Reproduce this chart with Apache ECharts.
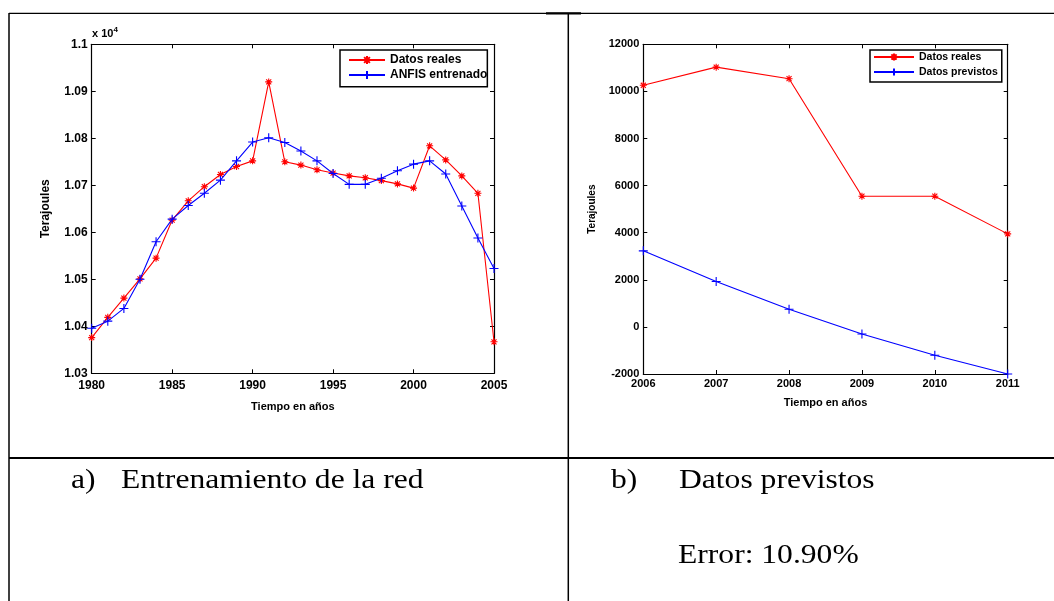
<!DOCTYPE html>
<html>
<head>
<meta charset="utf-8">
<script src="https://cdn.jsdelivr.net/npm/echarts@6/dist/echarts.min.js"></script>
<style>
  html, body { margin: 0; padding: 0; background: #fff; }
  #chart { width: 1054px; height: 601px; }
</style>
</head>
<body>
<div id="chart"></div>
<script>
// Training period (1980-2005): measured energy vs. trained ANFIS output, in Terajoules
const yearsTrain = [1980, 1981, 1982, 1983, 1984, 1985, 1986, 1987, 1988, 1989, 1990, 1991, 1992,
                    1993, 1994, 1995, 1996, 1997, 1998, 1999, 2000, 2001, 2002, 2003, 2004, 2005];
const realTrain = [10376, 10419, 10460, 10501, 10545, 10626, 10667, 10697, 10723, 10740, 10752, 10920, 10750,
                   10743, 10733, 10726, 10720, 10716, 10710, 10703, 10694, 10784, 10754, 10720, 10683, 10367];
const anfisTrain = [10396, 10411, 10438, 10500, 10580, 10628, 10657, 10683, 10711, 10752, 10792, 10801, 10791,
                    10773, 10752, 10725, 10702, 10702, 10715, 10731, 10745, 10752, 10724, 10656, 10588, 10523];

// Forecast period (2006-2011)
const yearsForecast = [2006, 2007, 2008, 2009, 2010, 2011];
const realForecast = [10260, 11030, 10540, 5550, 5550, 3950];
const predForecast = [3230, 1930, 750, -300, -1205, -2000];

// Axis ranges and labels
const trainYRange = { min: 10300, max: 11000, step: 100 };
const forecastYRange = { min: -2000, max: 12000, step: 2000 };
const seriesNamesA = ['Datos reales', 'ANFIS entrenado'];
const seriesNamesB = ['Datos reales', 'Datos previstos'];
const captionA = ['a)', 'Entrenamiento de la red'];
const captionB = ['b)', 'Datos previstos'];
const errorText = 'Error: 10.90%';

const SANS = "'Liberation Sans', Arial, Helvetica, sans-serif";
const SERIF = "'Liberation Serif', 'Times New Roman', serif";
const STAR = 'path://M0,-1L0,1M-1,0L1,0M-0.72,-0.72L0.72,0.72M-0.72,0.72L0.72,-0.72';
const PLUS = 'path://M0,-1L0,1M-1,0L1,0';

const pairs = (xs, ys) => xs.map((x, i) => [x, ys[i]]);
const plain = v => String(v);

function frameAxis(base, extra) {
  return Object.assign({
    type: 'value',
    splitLine: { show: false },
    axisLine: { show: true, onZero: false, lineStyle: { color: '#000', width: 1.2 } },
    axisTick: { show: true, inside: true, length: 4, lineStyle: { color: '#000', width: 1 } },
    axisLabel: { show: false }
  }, base, extra || {});
}

function lineSeries(name, xi, yi, data, color, symbol, size) {
  return {
    name, type: 'line', xAxisIndex: xi, yAxisIndex: yi,
    data, symbol, symbolSize: size, showAllSymbol: true,
    lineStyle: { color, width: 1.1 },
    itemStyle: { color, borderColor: color, borderWidth: 1.1 },
    emphasis: { disabled: true },
    animation: false, z: color === 'red' ? 3 : 4
  };
}

const chart = echarts.init(document.getElementById('chart'), null, { renderer: 'canvas' });

chart.setOption({
  backgroundColor: '#fff',
  animation: false,
  textStyle: { fontFamily: SANS },
  grid: [
    { left: 91.7, top: 44.3, width: 402.3, height: 329 },
    { left: 643.3, top: 44.3, width: 364.4, height: 329.7 }
  ],
  legend: [
    {
      data: seriesNamesA, orient: 'vertical', left: 340, top: 50,
      itemWidth: 36, itemHeight: 10, itemGap: 1,
      padding: [3, 0, 4.7, 8],
      borderColor: '#000', borderWidth: 1.5, backgroundColor: '#fff',
      textStyle: { fontFamily: SANS, fontWeight: 'bold', fontSize: 12, lineHeight: 14, color: '#000' },
      selectedMode: false
    },
    {
      data: seriesNamesB, orient: 'vertical', left: 870, top: 50,
      itemWidth: 40, itemHeight: 9, itemGap: 2,
      padding: [0.5, 4, 3.5, 3],
      borderColor: '#000', borderWidth: 1.5, backgroundColor: '#fff',
      textStyle: { fontFamily: SANS, fontWeight: 'bold', fontSize: 10.5, lineHeight: 13, color: '#000' },
      selectedMode: false
    }
  ],
  xAxis: [
    frameAxis({ gridIndex: 0, position: 'bottom', min: 1980, max: 2005, interval: 5 }, {
      axisLabel: { show: true, color: '#000', fontWeight: 'bold', fontSize: 12, margin: 6, fontFamily: SANS, formatter: plain },
      name: 'Tiempo en años', nameLocation: 'middle', nameGap: 28,
      nameTextStyle: { color: '#000', fontWeight: 'bold', fontSize: 11, fontFamily: SANS }
    }),
    frameAxis({ gridIndex: 0, position: 'top', min: 1980, max: 2005, interval: 5 }),
    frameAxis({ gridIndex: 1, position: 'bottom', min: 2006, max: 2011, interval: 1 }, {
      axisLabel: { show: true, color: '#000', fontWeight: 'bold', fontSize: 11, margin: 4, fontFamily: SANS, formatter: plain },
      name: 'Tiempo en años', nameLocation: 'middle', nameGap: 23,
      nameTextStyle: { color: '#000', fontWeight: 'bold', fontSize: 11, fontFamily: SANS }
    }),
    frameAxis({ gridIndex: 1, position: 'top', min: 2006, max: 2011, interval: 1 })
  ],
  yAxis: [
    frameAxis({ gridIndex: 0, position: 'left', min: trainYRange.min, max: trainYRange.max, interval: trainYRange.step }, {
      axisLabel: {
        show: true, color: '#000', fontWeight: 'bold', fontSize: 12, margin: 4, fontFamily: SANS,
        formatter: v => String(parseFloat((v / 10000).toFixed(4)))
      },
      name: 'Terajoules', nameLocation: 'middle', nameGap: 40, nameRotate: 90,
      nameTextStyle: { color: '#000', fontWeight: 'bold', fontSize: 12, fontFamily: SANS }
    }),
    frameAxis({ gridIndex: 0, position: 'right', min: trainYRange.min, max: trainYRange.max, interval: trainYRange.step }),
    frameAxis({ gridIndex: 1, position: 'left', min: forecastYRange.min, max: forecastYRange.max, interval: forecastYRange.step }, {
      axisLabel: { show: true, color: '#000', fontWeight: 'bold', fontSize: 11, margin: 4, fontFamily: SANS, formatter: plain },
      name: 'Terajoules', nameLocation: 'middle', nameGap: 46, nameRotate: 90,
      nameTextStyle: { color: '#000', fontWeight: 'bold', fontSize: 10, fontFamily: SANS }
    }),
    frameAxis({ gridIndex: 1, position: 'right', min: forecastYRange.min, max: forecastYRange.max, interval: forecastYRange.step })
  ],
  series: [
    lineSeries(seriesNamesA[0], 0, 0, pairs(yearsTrain, realTrain), 'red', STAR, 7),
    lineSeries(seriesNamesA[1], 0, 0, pairs(yearsTrain, anfisTrain), 'blue', PLUS, 9),
    lineSeries(seriesNamesB[0], 2, 2, pairs(yearsForecast, realForecast), 'red', STAR, 7),
    lineSeries(seriesNamesB[1], 2, 2, pairs(yearsForecast, predForecast), 'blue', PLUS, 9)
  ],
  graphic: [
    // table rules
    { type: 'line', shape: { x1: 9, y1: 13.3, x2: 1054, y2: 13.3 }, style: { stroke: '#000', lineWidth: 1.3 } },
    { type: 'line', shape: { x1: 546, y1: 13.3, x2: 581, y2: 13.3 }, style: { stroke: '#000', lineWidth: 2.2 } },
    { type: 'line', shape: { x1: 9, y1: 13, x2: 9, y2: 601 }, style: { stroke: '#000', lineWidth: 1.5 } },
    { type: 'line', shape: { x1: 568.3, y1: 13, x2: 568.3, y2: 601 }, style: { stroke: '#000', lineWidth: 1.5 } },
    { type: 'line', shape: { x1: 9, y1: 458, x2: 1054, y2: 458 }, style: { stroke: '#000', lineWidth: 2 } },
    // exponent of the left y axis
    {
      type: 'text', x: 92, y: 33.5,
      style: {
        text: 'x 10{sup|4}', fill: '#000', font: 'bold 11px ' + SANS, verticalAlign: 'middle',
        rich: { sup: { fontSize: 8, fontWeight: 'bold', fontFamily: SANS, verticalAlign: 'bottom', padding: [0, 0, 7, 0] } }
      }
    },
    // captions
    { type: 'text', x: 71, y: 481, scaleX: 1.17, style: { text: captionA[0], fill: '#000', font: '27px ' + SERIF, verticalAlign: 'middle' } },
    { type: 'text', x: 121, y: 481, scaleX: 1.17, style: { text: captionA[1], fill: '#000', font: '27px ' + SERIF, verticalAlign: 'middle' } },
    { type: 'text', x: 611, y: 481, scaleX: 1.17, style: { text: captionB[0], fill: '#000', font: '27px ' + SERIF, verticalAlign: 'middle' } },
    { type: 'text', x: 679, y: 481, scaleX: 1.17, style: { text: captionB[1], fill: '#000', font: '27px ' + SERIF, verticalAlign: 'middle' } },
    { type: 'text', x: 678, y: 556, scaleX: 1.17, style: { text: errorText, fill: '#000', font: '27px ' + SERIF, verticalAlign: 'middle' } }
  ]
});
</script>
</body>
</html>
